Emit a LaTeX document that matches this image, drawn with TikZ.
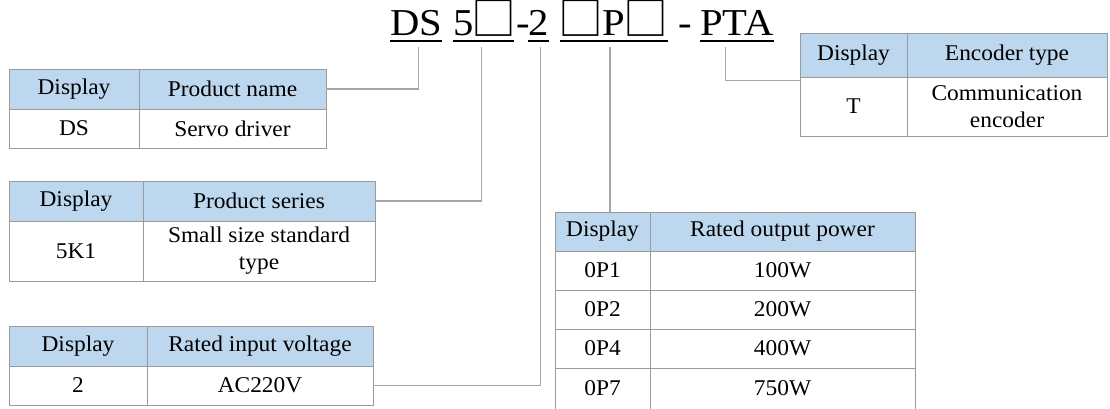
\documentclass[tikz,border=0pt]{standalone}
\usepackage{fontspec}
\setmainfont{Liberation Serif}
\newfontfamily\titlefont{Liberation Serif}[FakeStretch=1.07]
\newfontfamily\tablefont{Liberation Serif}[FakeStretch=1.04]
\newfontfamily\boxfont{Noto Sans CJK SC}
% placeholder square of the model code, set in a box of the given width
\newcommand\sqbox[1][38pt]{\makebox[#1]{\raisebox{-0.5pt}{\scalebox{1.18}[1.2]{\boxfont\fontsize{38}{38}\selectfont □}}}}
\definecolor{headblue}{HTML}{BDD7EE}
\definecolor{rulegray}{HTML}{9A9A9A}
\definecolor{linkgray}{HTML}{A6A6A6}
\begin{document}
\begin{tikzpicture}[x=1pt,y=-1pt,
  cell/.style n args={2}{draw=rulegray,line width=0.9pt,inner sep=0pt,align=center,
    font=\tablefont\fontsize{22.5}{27}\selectfont,minimum width=#1,minimum height=#2},
  head/.style n args={2}{cell={#1}{#2},fill=headblue},
  part/.style={anchor=base west,inner sep=0pt,font=\titlefont\fontsize{38}{40}\selectfont},
  uline/.style={line width=1.8pt},
  conn/.style={draw=linkgray,line width=1.2pt}]
\useasboundingbox (0,0) rectangle (1110,408);

% model code
\node[part] (ds)    at (390,35) {DS};
\node[part] (ser)   at (453,35) {5\sqbox[40pt]};
\node[part] (dsh1)  at (516,35) {-};
\node[part] (volt)  at (528,35) {2};
\node[part] (pow)   at (560,35) {\sqbox[42pt]P\sqbox[43pt]};
\node[part] (dsh2)  at (678,35) {-};
\node[part] (enc)   at (700,35) {PTA};
\foreach \p in {ds,ser,volt,pow,enc}
  \draw[uline] ([yshift=-6pt]\p.base west) -- ([yshift=-6pt]\p.base east);

% product name
\node[head={130pt}{40pt}] (pn-h1) at (74,89) {Display};
\node[head={187pt}{40pt}] (pn-h2) at (232.5,89) {Product name};
\node[cell={130pt}{39pt}] (pn-d1) at (74,128.5) {DS};
\node[cell={187pt}{39pt}] (pn-d2) at (232.5,128.5) {Servo driver};

% product series
\node[head={134pt}{40pt}] (ps-h1) at (76,201) {Display};
\node[head={232pt}{40pt}] (ps-h2) at (259,201) {Product series};
\node[cell={134pt}{60pt}] (ps-d1) at (76,251) {5K1};
\node[cell={232pt}{60pt}] (ps-d2) at (259,251) {Small size standard\\type};

% rated input voltage
\node[head={138pt}{40pt}] (iv-h1) at (78,346) {Display};
\node[head={226pt}{40pt}] (iv-h2) at (260,346) {Rated input voltage};
\node[cell={138pt}{39pt}] (iv-d1) at (78,385.5) {2};
\node[cell={226pt}{39pt}] (iv-d2) at (260,385.5) {AC220V};

% rated output power
\node[head={95pt}{39pt}]  (pw-h1) at (602.5,231.5) {Display};
\node[head={265pt}{39pt}] (pw-h2) at (782.5,231.5) {Rated output power};
\node[cell={95pt}{39pt}]  (pw-a1) at (602.5,270.5) {0P1};
\node[cell={265pt}{39pt}] (pw-a2) at (782.5,270.5) {100W};
\node[cell={95pt}{39pt}]  (pw-b1) at (602.5,309.5) {0P2};
\node[cell={265pt}{39pt}] (pw-b2) at (782.5,309.5) {200W};
\node[cell={95pt}{39pt}]  (pw-c1) at (602.5,348.5) {0P4};
\node[cell={265pt}{39pt}] (pw-c2) at (782.5,348.5) {400W};
\node[cell={95pt}{41pt}]  (pw-d1) at (602.5,388.5) {0P7};
\node[cell={265pt}{41pt}] (pw-d2) at (782.5,388.5) {750W};

% encoder type
\node[head={107pt}{44pt}] (en-h1) at (853.5,55) {Display};
\node[head={200pt}{44pt}] (en-h2) at (1007,55) {Encoder type};
\node[cell={107pt}{59pt}] (en-d1) at (853.5,106.5) {T};
\node[cell={200pt}{59pt}] (en-d2) at (1007,106.5) {Communication\\encoder};

% leader lines
\draw[conn] ([xshift=2pt,yshift=-12pt]ds.base) |- (pn-h2.east);
\draw[conn] ([xshift=-2pt,yshift=-12pt]ser.base) |- (ps-h2.east);
\draw[conn] ([xshift=2.5pt,yshift=-12pt]volt.base) |- (iv-d2.east);
\draw[conn] ([xshift=-4pt,yshift=-12pt]pow.base) -- ([xshift=-4pt]pow.base |- pw-h1.north);
\draw[conn] ([xshift=-11.5pt,yshift=-12pt]enc.base) |- ([yshift=-4pt]en-d1.north west);
\end{tikzpicture}
\end{document}
